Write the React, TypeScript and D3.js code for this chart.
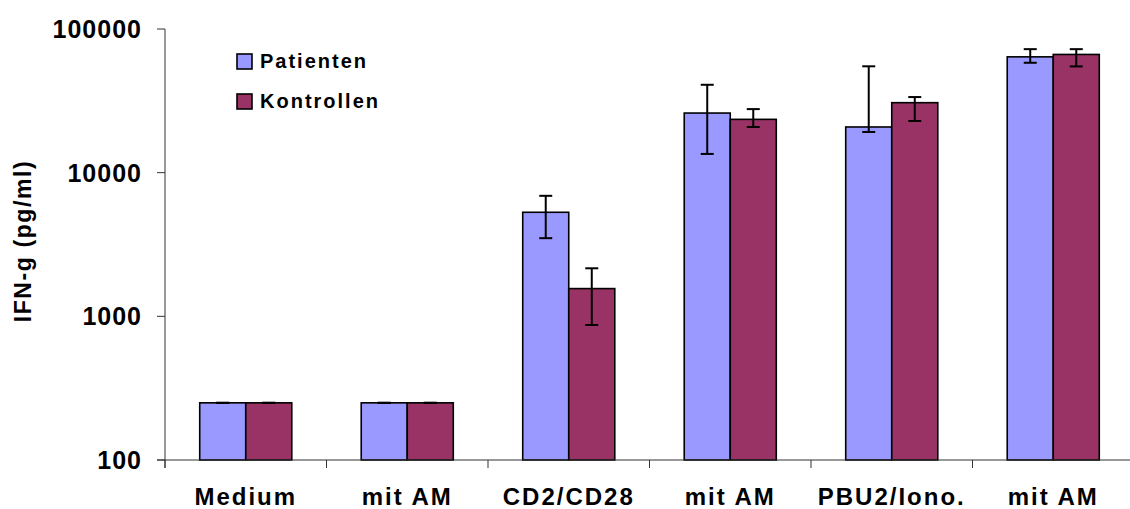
import React from "react";
import * as d3 from "d3";

// values (pg/ml, log scale)
const categories = ["Medium", "mit AM", "CD2/CD28", "mit AM ", "PBU2/Iono.", "mit AM  "];
const categoryLabels = ["Medium", "mit AM", "CD2/CD28", "mit AM", "PBU2/Iono.", "mit AM"];
const seriesNames = ["Patienten", "Kontrollen"];
const seriesColors = ["#9999FF", "#993366"];

const patienten = [250, 250, 5300, 26000, 20800, 64000];
const patientenLow = [250, 250, 3500, 13500, 19200, 58200];
const patientenHigh = [250, 250, 6900, 40900, 55000, 72400];

const kontrollen = [250, 250, 1560, 23500, 30700, 66500];
const kontrollenLow = [250, 250, 870, 20800, 22900, 54900];
const kontrollenHigh = [250, 250, 2160, 27700, 33600, 72400];

const yTicks = [100, 1000, 10000, 100000];

const W = 1130;
const H = 509;
const margin = { top: 29, left: 165, bottom: 49 };
const plotRight = 1134;

const font = "Arial, 'Liberation Sans', sans-serif";

export default function App() {
  const y = d3
    .scaleLog()
    .domain([100, 100000])
    .range([H - margin.bottom, margin.top]);

  const x0 = d3
    .scaleBand()
    .domain(categories)
    .range([margin.left, plotRight])
    .paddingInner(0)
    .paddingOuter(0);

  const bw = x0.bandwidth();
  const barW = bw * 0.285;
  const x1 = d3
    .scaleBand()
    .domain(seriesNames)
    .range([(bw - 2 * barW) / 2, (bw + 2 * barW) / 2]);

  const data = [
    { name: seriesNames[0], values: patienten, low: patientenLow, high: patientenHigh },
    { name: seriesNames[1], values: kontrollen, low: kontrollenLow, high: kontrollenHigh },
  ];

  const baseY = y(100);

  return (
    <div style={{ position: "fixed", left: 0, top: 0 }}>
      <svg width={W} height={H} style={{ display: "block", background: "#fff" }}>
        {/* bars */}
        {data.map((s, si) => (
          <g key={s.name}>
            {categories.map((c, i) => {
              const bx = (x0(c) ?? 0) + (x1(s.name) ?? 0);
              const top = y(s.values[i]);
              return (
                <rect
                  key={c}
                  x={bx}
                  y={top}
                  width={x1.bandwidth()}
                  height={baseY - top}
                  fill={seriesColors[si]}
                  stroke="#000"
                  strokeWidth={1.6}
                />
              );
            })}
          </g>
        ))}

        {/* error bars */}
        {data.map((s) => (
          <g key={s.name + "-err"} stroke="#000" strokeWidth={2}>
            {categories.map((c, i) => {
              const cx = (x0(c) ?? 0) + (x1(s.name) ?? 0) + x1.bandwidth() / 2;
              const yl = y(s.low[i]);
              const yh = y(s.high[i]);
              return (
                <g key={c}>
                  <line x1={cx} x2={cx} y1={yl} y2={yh} />
                  <line x1={cx - 6.5} x2={cx + 6.5} y1={yh} y2={yh} />
                  <line x1={cx - 6.5} x2={cx + 6.5} y1={yl} y2={yl} />
                </g>
              );
            })}
          </g>
        ))}

        {/* y axis */}
        <line x1={margin.left} x2={margin.left} y1={margin.top} y2={baseY + 8} stroke="#333" strokeWidth={1} />
        {yTicks.map((t) => (
          <g key={t}>
            <line x1={margin.left - 8} x2={margin.left} y1={y(t)} y2={y(t)} stroke="#333" strokeWidth={1} />
            <text
              x={142}
              y={y(t)}
              dy="0.36em"
              textAnchor="end"
              fontFamily={font}
              fontWeight="bold"
              fontSize={25}
              letterSpacing={1}
              fill="#000"
            >
              {t}
            </text>
          </g>
        ))}

        {/* x axis */}
        <line x1={margin.left - 8} x2={W} y1={baseY} y2={baseY} stroke="#333" strokeWidth={1} />
        {categories.map((c) => (
          <line
            key={c + "-tick"}
            x1={(x0(c) ?? 0)}
            x2={(x0(c) ?? 0)}
            y1={baseY}
            y2={baseY + 8}
            stroke="#333"
            strokeWidth={1}
          />
        ))}
        {categories.map((c, i) => (
          <text
            key={c + "-label"}
            x={(x0(c) ?? 0) + bw / 2}
            y={505}
            textAnchor="middle"
            fontFamily={font}
            fontWeight="bold"
            fontSize={24}
            letterSpacing={2}
            fill="#000"
          >
            {categoryLabels[i]}
          </text>
        ))}

        {/* y label */}
        <text
          transform={`translate(31, 241) rotate(-90)`}
          textAnchor="middle"
          fontFamily={font}
          fontWeight="bold"
          fontSize={23}
          letterSpacing={1.6}
          fill="#000"
        >
          IFN-g (pg/ml)
        </text>

        {/* legend */}
        {seriesNames.map((n, i) => (
          <g key={n} transform={`translate(237, ${54 + i * 40})`}>
            <rect x={0} y={0} width={15} height={15} fill={seriesColors[i]} stroke="#000" strokeWidth={1.6} />
            <text
              x={23}
              y={14}
              fontFamily={font}
              fontWeight="bold"
              fontSize={20}
              letterSpacing={2}
              fill="#000"
            >
              {n}
            </text>
          </g>
        ))}
      </svg>
    </div>
  );
}
